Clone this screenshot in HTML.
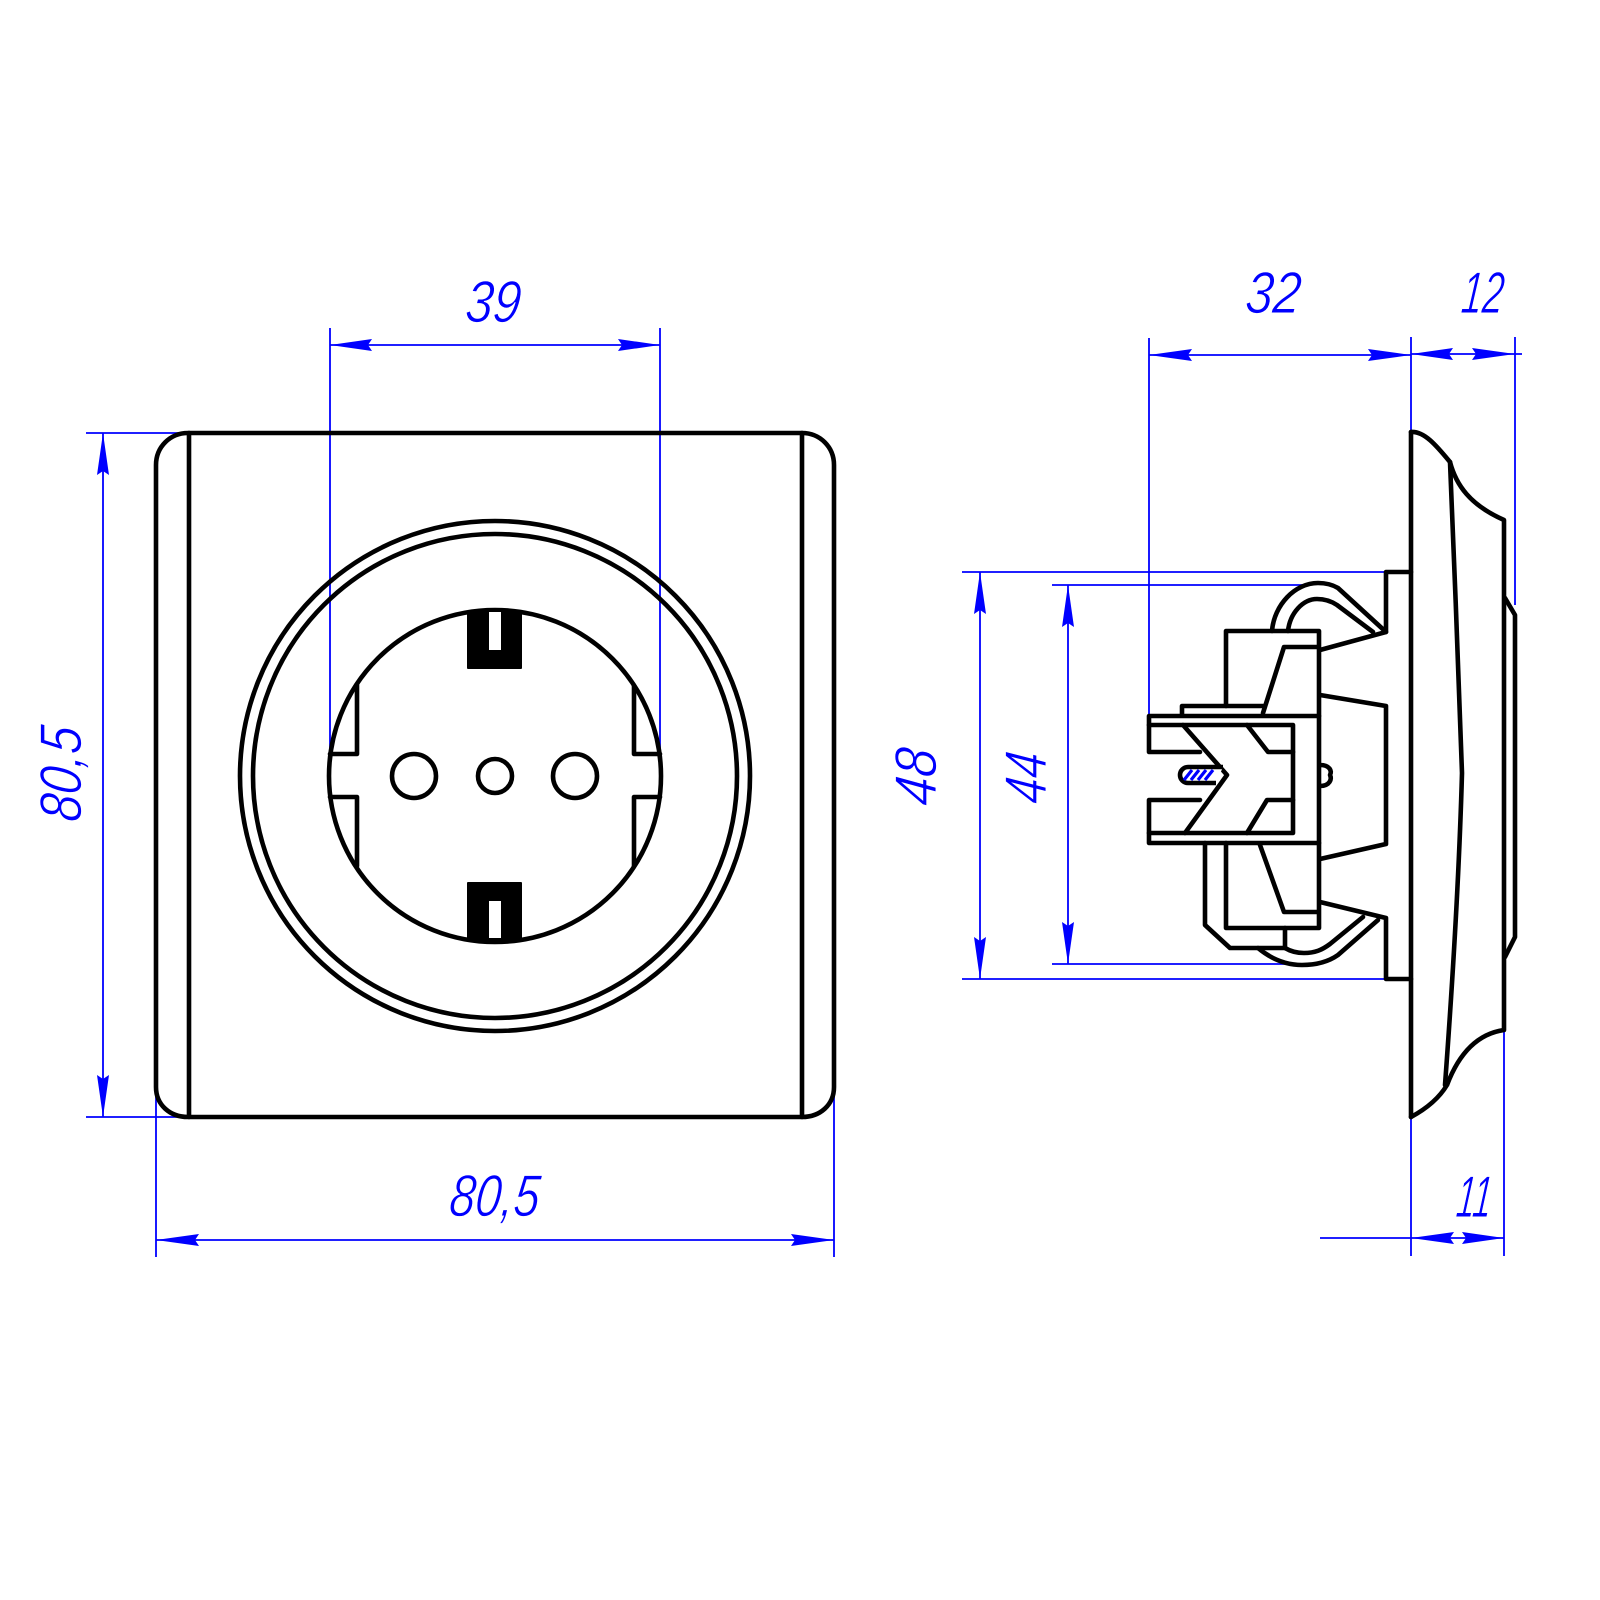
<!DOCTYPE html>
<html><head><meta charset="utf-8"><style>
html,body{margin:0;padding:0;background:#fff}
svg{display:block}
.k{fill:none;stroke:#000;stroke-width:4.6;stroke-linejoin:round;stroke-linecap:round}
.b{fill:none;stroke:#0000ff;stroke-width:1.8}
.a{fill:#0000ff;stroke:none}
text{font-family:"Liberation Sans",sans-serif;font-style:italic;fill:#0000ff;font-size:59px;stroke:#fff;stroke-width:.9px;paint-order:normal}
</style></head><body>
<svg width="1600" height="1600" viewBox="0 0 1600 1600" xmlns="http://www.w3.org/2000/svg">
<defs><clipPath id="c"><circle cx="495" cy="776" r="166"/></clipPath></defs>
<rect width="1600" height="1600" fill="#fff"/>

<!-- blue dimension lines -->
<g class="b">
<path d="M330 328V776M660 328V776M330 345H660"/>
<path d="M86 433H188M86 1117H188M103 433V1117"/>
<path d="M156 1090V1257M834 1060V1257M156 1240H834"/>
<path d="M1149 338V716M1149 355H1411M1411 337V432M1515 337V605M1411 354H1522"/>
<path d="M1411 1117V1256M1504 1030V1256M1320 1238H1504"/>
<path d="M962 572H1386M962 979H1386M980 572V979"/>
<path d="M1052 585H1310M1052 964H1285M1068 585V964"/>
</g>
<g class="a">
<path d="M330 345L372 339L368 345L372 351Z"/><path d="M660 345L618 339L622 345L618 351Z"/>
<path d="M103 433L97 475L103 471L109 475Z"/><path d="M103 1117L97 1075L103 1079L109 1075Z"/>
<path d="M156 1240L199 1234L195 1240L199 1246Z"/><path d="M834 1240L791 1234L795 1240L791 1246Z"/>
<path d="M1149 355L1192 349L1188 355L1192 361Z"/><path d="M1411 355L1368 349L1372 355L1368 361Z"/>
<path d="M1411 354L1453 348L1449 354L1453 360Z"/><path d="M1515 354L1472 348L1476 354L1472 360Z"/>
<path d="M1411 1238L1454 1232L1450 1238L1454 1244Z"/><path d="M1504 1238L1462 1232L1466 1238L1462 1244Z"/>
<path d="M980 572L974 614L980 610L986 614Z"/><path d="M980 979L974 937L980 941L986 937Z"/>
<path d="M1068 585L1062 627L1068 623L1074 627Z"/><path d="M1068 964L1062 922L1068 926L1074 922Z"/>
</g>

<!-- front view -->
<g class="k">
<path d="M188 433H802C820 433 834 447 834 465V1087C834 1105 820 1117 802 1117H188C170 1117 156 1105 156 1087V465C156 447 170 433 188 433Z"/>
<path d="M189 433V1117M802 433V1117"/>
<circle cx="495" cy="776" r="255"/>
<circle cx="495" cy="776" r="242"/>
<circle cx="495" cy="776" r="166"/>
<circle cx="414" cy="776" r="22"/>
<circle cx="495" cy="776" r="17"/>
<circle cx="575" cy="776" r="22"/>
<path d="M357 685V754H330M357 866V797H330M634 686V754H660M634 866V797H660"/>
</g>
<g clip-path="url(#c)">
<rect x="467" y="605" width="55" height="64" rx="1" fill="#000"/>
<rect x="467" y="882" width="55" height="64" rx="1" fill="#000"/>
</g>
<rect x="489" y="612" width="12" height="38" fill="#fff"/>
<rect x="489" y="901" width="12" height="37" fill="#fff"/>

<!-- side view -->
<g class="k">
<!-- cover profile -->
<path d="M1411 432V1117"/>
<path d="M1411 432C1424 431 1436 445 1450 462C1456 485 1470 505 1504 520V1030C1476 1034 1458 1056 1447 1085C1438 1100 1424 1110 1411 1117"/>
<path d="M1450 462C1454 560 1459 680 1462 773C1459 880 1452 990 1445 1085"/>
<path d="M1505 598L1515 615V937L1505 957"/>
<!-- flange -->
<path d="M1411 572H1386V632L1320 650"/>
<path d="M1411 979H1386V918L1320 902"/>
<path d="M1320 695L1386 706V844L1320 859"/>
<!-- body -->
<path d="M1226 706V631H1319V928H1226V843"/>
<path d="M1317 647H1284L1263 713"/>
<path d="M1260 845L1284 912H1317"/>
<path d="M1182 715V706H1263"/>
<path d="M1149 716H1319M1149 843H1319M1149 716V752H1200M1149 843V800H1200"/>
<path d="M1149 725H1293V833H1149"/>
<path d="M1183 725L1227 775L1185 833"/>
<path d="M1247 725L1268 752H1293M1247 833L1267 800H1293"/>
<!-- bump -->
<path d="M1320 765C1330 765 1332 771 1330 775C1332 779 1330 786 1320 786"/>
<!-- upper clip -->
<path d="M1272 631C1274 605 1295 583 1318 583C1326 583 1333 585 1338 588L1386 632"/>
<path d="M1288 631C1290 613 1303 599 1317 599C1325 599 1331 601 1337 605L1373 632"/>
<!-- lower clip -->
<path d="M1205 843V925L1230 948H1285V928"/>
<path d="M1285 948C1290 951 1296 953 1304 953C1315 953 1322 950 1330 944L1363 917"/>
<path d="M1258 948C1270 958 1284 965 1302 965C1316 965 1328 962 1338 955L1378 920"/>
</g>
<!-- hatched pill -->
<path d="M1223 767H1188A8 8 0 0 0 1188 783H1216" fill="#fff" stroke="#000" stroke-width="4.6" stroke-linejoin="round"/>
<path d="M1184 780L1192 770M1191 780L1199 770M1198 780L1206 770M1205 780L1213 770" stroke="#0000ff" stroke-width="3.2" fill="none"/>

<!-- labels -->
<text transform="translate(464,322) skewX(-6)" textLength="55" lengthAdjust="spacingAndGlyphs">39</text>
<text transform="translate(448,1216) skewX(-6)" textLength="90" lengthAdjust="spacingAndGlyphs">80,5</text>
<text transform="translate(1244,313) skewX(-6)" textLength="55" lengthAdjust="spacingAndGlyphs">32</text>
<text transform="translate(1460,313) skewX(-6)" textLength="42" lengthAdjust="spacingAndGlyphs">12</text>
<text transform="translate(1455,1217) skewX(-6)" textLength="35" lengthAdjust="spacingAndGlyphs">11</text>
<text transform="translate(81,823) rotate(-90) skewX(-6)" textLength="95" lengthAdjust="spacingAndGlyphs">80,5</text>
<text transform="translate(936,807) rotate(-90) skewX(-6)" textLength="57" lengthAdjust="spacingAndGlyphs">48</text>
<text transform="translate(1046,805) rotate(-90) skewX(-6)" textLength="51" lengthAdjust="spacingAndGlyphs">44</text>
</svg>
</body></html>
